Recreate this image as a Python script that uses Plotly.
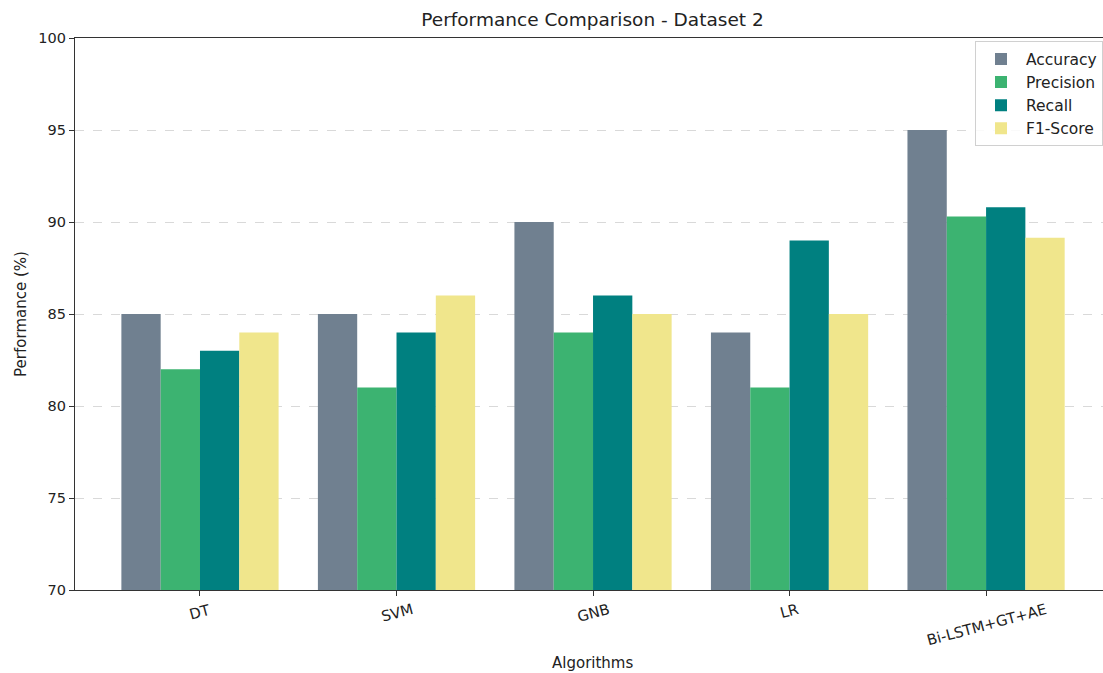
import plotly.graph_objects as go

categories = ["DT", "SVM", "GNB", "LR", "Bi-LSTM+GT+AE"]
accuracy = [85, 85, 90, 84, 95]
precision = [82, 81, 84, 81, 90.3]
recall = [83, 84, 86, 89, 90.8]
f1_score = [84, 86, 85, 85, 89.15]

series = [
    ("Accuracy", accuracy, "#708090"),
    ("Precision", precision, "#3CB371"),
    ("Recall", recall, "#008080"),
    ("F1-Score", f1_score, "#F0E68C"),
]

font_family = "DejaVu Sans"
fig = go.Figure()
for name, vals, color in series:
    fig.add_trace(go.Bar(x=list(range(len(categories))), y=vals, name=name,
                         marker=dict(color=color, line=dict(width=0))))

# category labels, rotated around their centre like matplotlib's rotation=15
for i, cat in enumerate(categories):
    fig.add_annotation(x=i, xref="x", y=-0.014, yref="paper", text=cat,
                       showarrow=False, textangle=-15, xanchor="center", yanchor="top",
                       font=dict(size=14.8, color="#222"))
fig.add_annotation(x=0.5034, xref="paper", y=1 - (663 - 38) / 552, yref="paper",
                   text="Algorithms", showarrow=False, xanchor="center", yanchor="middle",
                   font=dict(size=15, color="#222"))

fig.update_layout(
    width=1103, height=673,
    margin=dict(l=75, r=0, t=38, b=83),
    plot_bgcolor="white", paper_bgcolor="white",
    barmode="group", bargap=0.2, bargroupgap=0,
    font=dict(family=font_family, size=15, color="#222"),
    title=dict(text="Performance Comparison - Dataset 2", x=0.5034, xref="paper",
               xanchor="center", y=1 - 20 / 673, yanchor="middle",
               font=dict(size=18.5, color="#222")),
    legend=dict(x=0.8755, y=0.994, xanchor="left", yanchor="top",
                bgcolor="rgba(255,255,255,0.85)", bordercolor="#d0d0d0", borderwidth=1,
                font=dict(size=15.5), tracegroupgap=0, itemwidth=40),
    showlegend=True,
)
fig.update_xaxes(
    tickmode="array", tickvals=list(range(len(categories))),
    showticklabels=False,
    range=[-0.636, 4.595],
    showline=True, linecolor="#333", linewidth=1.2, mirror=True,
    ticks="outside", ticklen=5, tickcolor="#333", showgrid=False,
)
fig.update_yaxes(
    range=[70, 100], tickvals=[70, 75, 80, 85, 90, 95, 100],
    showline=True, linecolor="#333", linewidth=1.2, mirror=False,
    ticks="outside", ticklen=5, tickcolor="#333",
    showgrid=True, gridcolor="#d9d9d9", griddash="dash", gridwidth=1,
    zeroline=False, tickfont=dict(size=14.5),
    title=dict(text="Performance (%)", standoff=8, font=dict(size=15)),
)
fig.write_html("out.html", config={"displayModeBar": False},
               post_script="document.body.style.margin='0';")
